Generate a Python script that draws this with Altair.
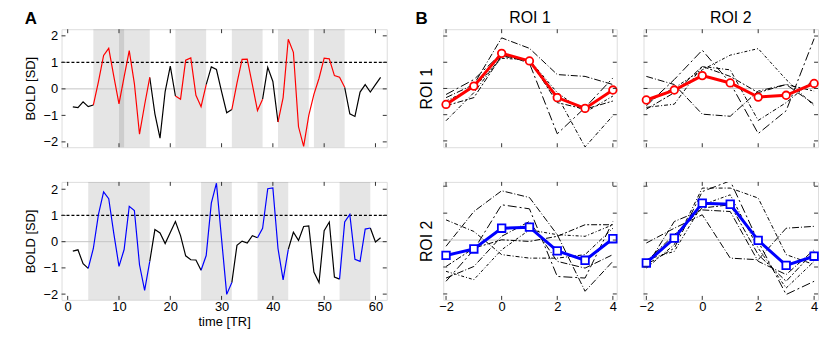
import altair as alt
import pandas as pd

FONT = "Liberation Sans"
FRAME = "#333333"

# ---------------- Panel A data ----------------
time_tr = list(range(1, 62))
bold_roi1 = [-0.68, -0.71, -0.49, -0.67, -0.61, 0.27, 1.26, 1.53, 0.46, -0.57,
             0.45, 1.44, 0.20, -1.71, -0.60, 0.43, -0.94, -1.86, -0.10, 0.86,
             -0.27, -0.39, 1.08, 1.17, -0.24, -0.67, 0.16, 0.83, 0.73, -0.10,
             -0.90, -0.78, 0.22, 1.11, 1.12, 0.16, -0.82, -0.39, 0.81, 0.28,
             -1.25, -0.33, 1.87, 1.38, -1.43, -2.17, -1.00, -0.21, 0.40, 1.16,
             1.13, 0.50, 0.44, 0.06, -0.94, -1.04, -0.12, 0.16, -0.12, 0.16, 0.43]
bold_roi2 = [-0.36, -0.31, -0.84, -1.02, -0.26, 1.04, 1.90, 1.64, 0.30, -0.94,
             -0.30, 1.35, 1.19, -0.88, -1.86, -0.75, 0.46, 0.33, -0.07, 0.35,
             0.77, 0.23, -0.54, -0.69, -0.70, -1.09, -0.53, 1.47, 2.23, 0.10,
             -2.01, -1.56, -0.14, 0.02, -0.05, 0.23, 0.15, 0.51, 2.02, 2.05,
             -0.26, -1.46, -0.30, 0.36, 0.05, 0.58, 0.60, -1.16, -1.56, 0.42,
             0.75, -1.35, -1.43, 0.75, 1.04, -0.67, -0.75, 0.48, 0.52, -0.01, 0.15]
red_segments = [[5, 16], [21, 27], [32, 38], [41, 54]]
blue_segments = [[4, 16], [26, 32], [37, 43], [53, 59]]
bands_roi1 = [[5, 11], [10, 16], [21, 27], [32, 38], [41, 47], [48, 54]]
bands_roi2 = [[4, 16], [26, 32], [37, 43], [53, 59]]
threshold = [1.0]
baseline = [0.0]
a_xticks = [0, 10, 20, 30, 40, 50, 60]
a_yticks = [-2, -1, 0, 1, 2]

# ---------------- Panel B data ----------------
lags = [-2, -1, 0, 1, 2, 3, 4]
b_xticks = [-2, 0, 2, 4]
b_yticks = [-2, -1, 0, 1, 2]
roi_names = ["ROI 1", "ROI 2"]

mean_r1_c1 = [-0.61, 0.09, 1.34, 1.05, -0.35, -0.76, -0.06]
mean_r1_c2 = [-0.44, -0.06, 0.49, 0.21, -0.33, -0.26, 0.19]
mean_r2_c1 = [-0.57, -0.33, 0.44, 0.48, -0.40, -0.75, 0.05]
mean_r2_c2 = [-0.85, 0.07, 1.37, 1.33, -0.01, -0.94, -0.60]

subj_r1_c1 = [
    [-0.35, 0.15, 1.93, 1.53, 0.53, 0.46, 0.15],
    [-1.23, -0.16, 1.24, 1.03, -0.29, -2.23, -1.04],
    [-0.23, 0.34, 1.34, 0.96, -1.73, -0.73, 0.40],
    [-0.48, 0.03, 1.15, 1.09, -0.16, -0.91, -0.29],
    [-0.66, -0.35, 1.24, 1.09, -0.54, -0.79, -0.48],
]
subj_r1_c2 = [
    [0.46, 0.15, -0.98, -1.06, -0.10, 0.15, -0.60],
    [-0.72, -0.60, 0.84, 0.71, -1.22, -0.54, 0.34],
    [-0.66, 0.34, 1.46, 0.21, -1.72, -0.85, 1.90],
    [-0.54, 0.02, 0.71, 1.27, 1.52, 0.34, -0.66],
    [-0.79, -0.16, 0.84, 0.46, -0.16, 0.15, -0.10],
]
subj_r2_c1 = [
    [-0.23, 1.06, 1.83, 1.58, 0.20, -1.90, -0.79],
    [0.75, 0.32, -0.54, -0.67, -0.67, -0.54, 0.44],
    [-1.53, -0.36, 1.31, 1.16, -1.35, -1.41, 0.69],
    [-1.16, -1.47, -0.36, 0.38, 0.20, 0.14, 0.57],
    [-0.98, -0.30, 0.01, -0.05, 0.14, 0.57, 0.57],
    [-1.41, -0.98, 0.14, 0.69, -0.79, -1.04, -0.54],
]
subj_r2_c2 = [
    [-0.11, 0.44, 0.94, -0.67, -0.73, 0.44, 0.51],
    [-1.04, -0.17, 1.93, 1.93, 1.56, -0.54, -0.91],
    [-0.91, -0.30, 1.80, 2.20, -0.05, -2.02, -1.53],
    [-0.73, -0.42, 1.31, 1.68, -0.30, -1.78, -0.79],
    [-0.79, 0.20, 1.19, 1.31, -0.54, -1.53, -0.42],
    [-0.98, 0.69, 1.12, 1.06, -0.79, -1.28, -0.36],
]
dash_styles = [[7, 2, 1, 2], [4, 2, 1, 2], [9, 3, 2, 3], [3, 2, 1, 2], [6, 2, 2, 2], [5, 3, 1, 3]]

TICK_LEN = 4
PANEL_H = 119


def tick_layers(X, Y, xticks, yticks, W, H):
    xt = pd.DataFrame({"v": xticks})
    yt = pd.DataFrame({"v": yticks})
    rule = dict(color=FRAME, strokeWidth=1)
    return [
        alt.Chart(xt).mark_rule(**rule).encode(x=X("v"), y=alt.value(H), y2=alt.value(H - TICK_LEN)),
        alt.Chart(xt).mark_rule(**rule).encode(x=X("v"), y=alt.value(0), y2=alt.value(TICK_LEN)),
        alt.Chart(yt).mark_rule(**rule).encode(y=Y("v"), x=alt.value(0), x2=alt.value(TICK_LEN)),
        alt.Chart(yt).mark_rule(**rule).encode(y=Y("v"), x=alt.value(W), x2=alt.value(W - TICK_LEN)),
    ]


def complement(segs, t0, t1):
    out, cur = [], t0
    for a, b in segs:
        if a > cur:
            out.append([cur, a])
        cur = max(cur, b)
    if cur < t1:
        out.append([cur, t1])
    return out


def seg_frame(values, segs):
    rows = []
    for i, (a, b) in enumerate(segs):
        for t, v in zip(time_tr, values):
            if a <= t <= b:
                rows.append({"t": t, "val": v, "seg": i})
    return pd.DataFrame(rows)


def label_layer(text, x, y, size=17, weight="bold", align="left", base="middle"):
    return alt.Chart(pd.DataFrame({"lab": [text]})).mark_text(
        font=FONT, fontSize=size, fontWeight=weight, align=align, baseline=base, color="black").encode(
        text="lab:N", x=alt.value(x), y=alt.value(y))


def a_panel(values, segs, bands, color, top, label=None):
    W, H = 328, PANEL_H
    ydom = [-2.2, 2.25] if top else [-2.22, 2.28]
    xs = alt.Scale(domain=[-1.2, 62.2], nice=False, zero=False)
    ys = alt.Scale(domain=ydom, nice=False, zero=False)
    if top:
        xaxis = None
    else:
        xaxis = alt.Axis(values=a_xticks, ticks=False, tickSize=0, domain=False, grid=False,
                         labelFontSize=13, labelPadding=1, labelFont=FONT, labelColor="black",
                         title="time [TR]", titleFontSize=13, titleFont=FONT, titleFontWeight="normal",
                         titleColor="black", titlePadding=2, format="d", minExtent=0)
    yaxis = alt.Axis(values=a_yticks, ticks=False, tickSize=0, domain=False, grid=False,
                     labelFontSize=13, labelPadding=4, labelFont=FONT, labelColor="black",
                     title="BOLD [SD]", titleFontSize=13, titleFont=FONT, titleFontWeight="normal",
                     titleColor="black", titlePadding=5, format="d", minExtent=0)

    def X(f):
        return alt.X(f"{f}:Q", scale=xs, axis=xaxis)

    def Y(f):
        return alt.Y(f"{f}:Q", scale=ys, axis=yaxis)

    band_df = pd.DataFrame({"start": [b[0] for b in bands], "end": [b[1] for b in bands]})
    layers = [
        alt.Chart(band_df).mark_rect(color="black", opacity=0.1).encode(
            x=X("start"), x2="end", y=alt.value(0), y2=alt.value(H)),
        alt.Chart(pd.DataFrame({"y": baseline})).mark_rule(color="#c4c4c4", strokeWidth=1).encode(y=Y("y")),
        alt.Chart(pd.DataFrame({"y": threshold})).mark_rule(color="black", strokeWidth=1.2,
                                                            strokeDash=[3, 2]).encode(y=Y("y")),
        alt.Chart(seg_frame(values, complement(segs, time_tr[0], time_tr[-1]))).mark_line(
            color="black", strokeWidth=1.2, clip=True).encode(x=X("t"), y=Y("val"), detail="seg:N"),
        alt.Chart(seg_frame(values, segs)).mark_line(
            color=color, strokeWidth=1.2, clip=True).encode(x=X("t"), y=Y("val"), detail="seg:N"),
    ]
    layers += tick_layers(X, Y, a_xticks, a_yticks, W, H)
    # invisible spacer so the column's right edge leaves room for panel B's labels
    layers.append(alt.Chart(pd.DataFrame({"k": [0]})).mark_rule(strokeOpacity=0, color="white").encode(
        x=alt.value(W), x2=alt.value(W + 10), y=alt.value(H / 2)))
    if label:
        layers.append(label_layer(label, -37, -10.5))
    return alt.layer(*layers).properties(width=W, height=H)


def b_panel(mean, subjects, color, shape, row, col, label=None):
    W, H = (175 if col == 1 else 176), PANEL_H
    ydom = [-2.24, 2.26] if row == 1 else [-2.22, 2.16]
    xs = alt.Scale(domain=[-2.1, 4.14], nice=False, zero=False)
    ys = alt.Scale(domain=ydom, nice=False, zero=False)
    if row == 2:
        xaxis = alt.Axis(values=b_xticks, ticks=False, tickSize=0, domain=False, grid=False,
                         labelFontSize=13, labelPadding=1, labelFont=FONT, labelColor="black",
                         title=None, format="d", minExtent=0)
    else:
        xaxis = None
    if col == 1:
        yaxis = alt.Axis(values=b_yticks, labels=False, ticks=False, tickSize=0, domain=False, grid=False,
                         title=roi_names[row - 1], titleFontSize=16, titleFont=FONT, titleFontWeight="normal",
                         titleColor="black", titlePadding=9, minExtent=0)
    else:
        yaxis = None

    def X(f):
        return alt.X(f"{f}:Q", scale=xs, axis=xaxis)

    def Y(f):
        return alt.Y(f"{f}:Q", scale=ys, axis=yaxis)

    srows = []
    for i, s in enumerate(subjects):
        for lag, v in zip(lags, s):
            srows.append({"lag": lag, "val": v, "subj": f"s{i}"})
    sdf = pd.DataFrame(srows)
    mdf = pd.DataFrame({"lag": lags, "val": mean})
    subj_ids = [f"s{i}" for i in range(len(subjects))]

    layers = [
        alt.Chart(pd.DataFrame({"y": baseline})).mark_rule(color="#c4c4c4", strokeWidth=1).encode(y=Y("y")),
        alt.Chart(sdf).mark_line(color="black", strokeWidth=1, clip=True).encode(
            x=X("lag"), y=Y("val"), detail="subj:N",
            strokeDash=alt.StrokeDash("subj:N", scale=alt.Scale(domain=subj_ids,
                                                                 range=dash_styles[:len(subjects)]),
                                      legend=None)),
        alt.Chart(mdf).mark_line(color=color, strokeWidth=3, clip=True).encode(x=X("lag"), y=Y("val")),
        alt.Chart(mdf).mark_point(shape=shape, filled=True, fill="white", stroke=color, strokeWidth=1.8,
                                  size=58, opacity=1).encode(x=X("lag"), y=Y("val")),
    ]
    layers += tick_layers(X, Y, b_xticks, b_yticks, W, H)
    if label:
        layers.append(label_layer(label, -28, -10.5))
    if row == 1:
        layers.append(label_layer(roi_names[col - 1], W / 2, -6.2, size=16, weight="normal",
                                  align="center", base="alphabetic"))
    return alt.layer(*layers).properties(width=W, height=H)


a_top = a_panel(bold_roi1, red_segments, bands_roi1, "#ff0000", True, label="A")
a_bot = a_panel(bold_roi2, blue_segments, bands_roi2, "#0000ff", False)
b11 = b_panel(mean_r1_c1, subj_r1_c1, "#ff0000", "circle", 1, 1, label="B")
b12 = b_panel(mean_r1_c2, subj_r1_c2, "#ff0000", "circle", 1, 2)
b21 = b_panel(mean_r2_c1, subj_r2_c1, "#0000ff", "square", 2, 1)
b22 = b_panel(mean_r2_c2, subj_r2_c2, "#0000ff", "square", 2, 2)

chart = alt.concat(a_top, b11, b12, a_bot, b21, b22, columns=3, align="each",
                   spacing={"row": 31, "column": 17}).properties(
    padding={"left": 16, "top": 0, "right": 0, "bottom": 0},
    background="white",
).configure_view(stroke=FRAME, strokeWidth=1).configure(font=FONT)

chart.save("out.html", embed_options={"renderer": "svg", "actions": False})
